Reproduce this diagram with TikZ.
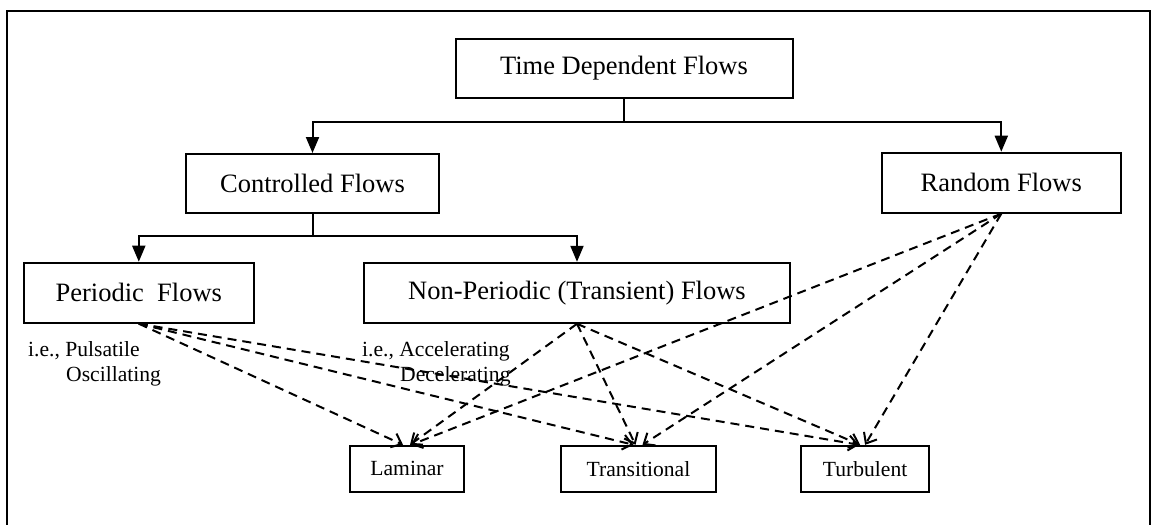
\documentclass[tikz,border=0pt]{standalone}
\usepackage{fontspec}
\setmainfont{Liberation Serif}
\usetikzlibrary{arrows.meta}
\begin{document}
\begin{tikzpicture}[x=1pt,y=-1pt,
  bigbox/.style={draw,line width=2pt,minimum height=59pt,inner sep=0pt,font=\fontsize{26.5}{30}\selectfont},
  smallbox/.style={draw,line width=2pt,minimum height=46pt,inner sep=0pt,font=\fontsize{21.6}{25}\selectfont},
  note/.style={anchor=west,inner sep=0pt,font=\fontsize{21.6}{25}\selectfont},
  solidarrow/.style={line width=2pt,-{Triangle[length=16pt,width=13pt]}},
  solidline/.style={line width=2pt},
  dasharrow/.style={line width=2pt,dash pattern=on 9pt off 6pt,-{Straight Barb[length=9pt,width=15pt,line width=2pt]}}
]
\useasboundingbox (0,0) rectangle (1152,525);
\draw[line width=2.5pt] (7,525) -- (7,11) -- (1150,11) -- (1150,525);

\node[bigbox,minimum width=337pt] (tdf) at (624,68) {Time Dependent Flows};
\node[bigbox,minimum width=253pt] (cf) at (312.5,183.5) {Controlled Flows};
\node[bigbox,minimum width=239.5pt,minimum height=60pt] (rf) at (1001.3,182.7) {Random Flows};
\node[bigbox,minimum width=230.5pt,minimum height=60pt] (pf) at (138.8,292.7) {Periodic\ \ Flows};
\node[bigbox,minimum width=426pt,minimum height=60pt] (np) at (577,292.8) {Non-Periodic (Transient) Flows};
\node[smallbox,minimum width=114.6pt] (lam) at (407,468.8) {Laminar};
\node[smallbox,minimum width=155.7pt] (tra) at (638.5,468.8) {Transitional};
\node[smallbox,minimum width=128.6pt] (tur) at (865.1,468.8) {Turbulent};

\node[note] (n1) at (28,351) {i.e., Pulsatile};
\node[note] (n2) at (66,376) {Oscillating};
\node[note] (n3) at (362,351) {i.e., Accelerating};
\node[note] (n4) at (400,376) {Decelerating};

\coordinate (j1) at (624,122.3);
\coordinate (j2) at (312.5,235.7);
\draw[solidline] (tdf.south) -- (j1);
\draw[solidarrow] (j1) -| (cf.north);
\draw[solidarrow] (j1) -| (rf.north);
\draw[solidline] (cf.south) -- (j2);
\draw[solidarrow] (j2) -| (pf.north);
\draw[solidarrow] (j2) -| (np.north);

\draw[dasharrow] (pf.south) -- ([xshift=-4pt]lam.north);
\draw[dasharrow] (pf.south) -- ([xshift=-5pt]tra.north);
\draw[dasharrow] (pf.south) -- ([xshift=-6pt]tur.north);
\draw[dasharrow] (np.south) -- ([xshift=3pt]lam.north);
\draw[dasharrow] (np.south) -- ([xshift=-3pt]tra.north);
\draw[dasharrow] (np.south) -- ([xshift=-5pt]tur.north);
\draw[dasharrow] (rf.south) -- ([xshift=4pt]lam.north);
\draw[dasharrow] (rf.south) -- ([xshift=4pt]tra.north);
\draw[dasharrow] (rf.south) -- ([xshift=0pt]tur.north);
\end{tikzpicture}
\end{document}
